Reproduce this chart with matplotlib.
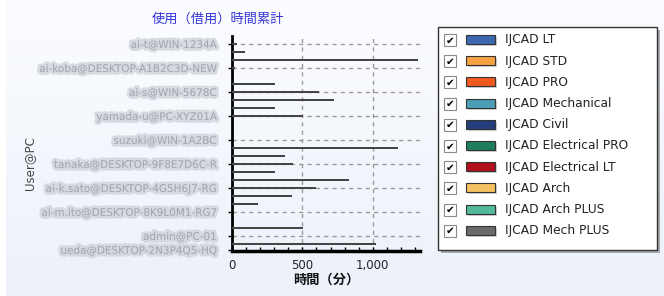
import numpy as np
import matplotlib
matplotlib.use('Agg')
import matplotlib.pyplot as plt
from matplotlib import patheffects
from matplotlib.patches import Rectangle
from matplotlib.ticker import MultipleLocator

plt.rcParams['font.family'] = ['DejaVu Sans', 'Noto Sans CJK JP']

# blurred user@pc names (unreadable in the source, placeholders of similar length)
users = ['ai-t@WIN-1234A', 'ai-koba@DESKTOP-A1B2C3D-NEW', 'ai-s@WIN-5678C',
         'yamada-u@PC-XYZ01A', 'suzuki@WIN-1A2BC', 'tanaka@DESKTOP-9F8E7D6C-R',
         'ai-k.sato@DESKTOP-4G5H6J7-RG', 'ai-m.ito@DESKTOP-8K9L0M1-RG7',
         'admin@PC-01', 'ueda@DESKTOP-2N3P4Q5-HQ']
user_pos = [0, 3, 6, 9, 12, 15, 18, 21, 24, 25.75]

# usage minutes per bar row (top to bottom)
minutes = [35, 90, 1323, 20, 0, 304, 615, 722, 304, 507, 0, 0, 0,
           1182, 377, 436, 304, 828, 597, 429, 182, 0, 0, 502, 0, 1021]

products = ['IJCAD LT', 'IJCAD STD', 'IJCAD PRO', 'IJCAD Mechanical', 'IJCAD Civil',
            'IJCAD Electrical PRO', 'IJCAD Electrical LT', 'IJCAD Arch',
            'IJCAD Arch PLUS', 'IJCAD Mech PLUS']
product_colors = ['#3c68b2', '#f7a244', '#f05a1e', '#4a9fb5', '#233e7a',
                  '#1e7d5e', '#b0101a', '#f5c262', '#52b99a', '#6a6a6a']

W, H = 664, 296
fig = plt.figure(figsize=(W / 100, H / 100), dpi=100)

# background gradient
bg = fig.add_axes([0, 0, 1, 1], zorder=0)
grad = np.linspace(0, 1, 200)[:, None]
top = np.array([0.985, 0.99, 1.0])
bot = np.array([0.925, 0.945, 0.98])
img = top + (bot - top) * grad[..., None]
img = np.repeat(img, 10, axis=1)
bg.imshow(img, aspect='auto', extent=(6, W, H, 0))
bg.set_xlim(0, W)
bg.set_ylim(H, 0)
bg.axis('off')

ax = fig.add_axes([232 / W, 45 / H, 188 / W, 215 / H], zorder=2)
ax.patch.set_alpha(0)
rows = np.arange(len(minutes))
ax.barh(rows, minutes, height=0.24, color='#444444', zorder=3)
ax.set_xlim(0, 1335)
ax.set_ylim(25.9, -1.0)

for y in user_pos[:-1]:
    ax.axhline(y, color='#9a9a9a', lw=1, dashes=(3, 3), zorder=1)
for x in [500, 1000]:
    ax.axvline(x, color='#9a9a9a', lw=1, dashes=(3, 3), zorder=1)

for s in ['top', 'right']:
    ax.spines[s].set_visible(False)
ax.spines['left'].set_linewidth(2)
ax.spines['bottom'].set_linewidth(2.5)

ax.set_xticks([0, 500, 1000])
ax.set_xticklabels(['0', '500', '1,000'], fontsize=8.5, color='#222222',
                   family=['Liberation Sans Narrow', 'DejaVu Sans'])
ax.xaxis.set_minor_locator(MultipleLocator(100))
ax.tick_params(axis='x', which='both', direction='in', length=3, width=1, pad=6)

ax.set_yticks(user_pos)
ax.set_yticklabels(users, fontsize=7.5, color='#a2a8b2')
ax.tick_params(axis='y', length=3, width=1, pad=8)
for t in ax.get_yticklabels():
    t.set_path_effects([patheffects.withStroke(linewidth=4, foreground='#ccd0d8', alpha=0.75)])

ax.set_xlabel('時間（分）', fontsize=9.5, color='#111111', labelpad=0,
              family=['Noto Sans CJK JP', 'DejaVu Sans'], fontweight='bold')
fig.text(30 / W, 1 - 163 / H, 'User@PC', rotation=90, ha='center', va='center',
         fontsize=8.5, color='#444444')
fig.text(218 / W, 1 - 19 / H, '使用（借用）時間累計', ha='center', va='center',
         fontsize=9.5, color='#3535d8', family=['Noto Sans CJK JP', 'DejaVu Sans'])

# legend panel (pixel coordinates)
lg = fig.add_axes([0, 0, 1, 1], zorder=3)
lg.set_xlim(0, W)
lg.set_ylim(H, 0)
lg.axis('off')
lg.patch.set_alpha(0)
lg.add_patch(Rectangle((441, 30), 219, 223, facecolor='#7a7a7a', edgecolor='none', alpha=0.6))
lg.add_patch(Rectangle((438, 27), 219, 223, facecolor='white', edgecolor='#333333', lw=1))
for i, (name, col) in enumerate(zip(products, product_colors)):
    yc = 40 + i * 21.2
    lg.add_patch(Rectangle((444, yc - 6), 12, 12, facecolor='white', edgecolor='#8a8a8a', lw=0.8))
    lg.text(450, yc + 0.5, '✔', ha='center', va='center', fontsize=7.5, color='black')
    lg.add_patch(Rectangle((468, yc - 3), 29, 9, facecolor='#b0b0b0', edgecolor='none', alpha=0.6))
    lg.add_patch(Rectangle((466, yc - 5), 29, 9, facecolor=col, edgecolor='#333333', lw=0.8))
    lg.text(505, yc, name, ha='left', va='center', fontsize=8.8, color='#222222')

fig.savefig('out.png', dpi=100)
